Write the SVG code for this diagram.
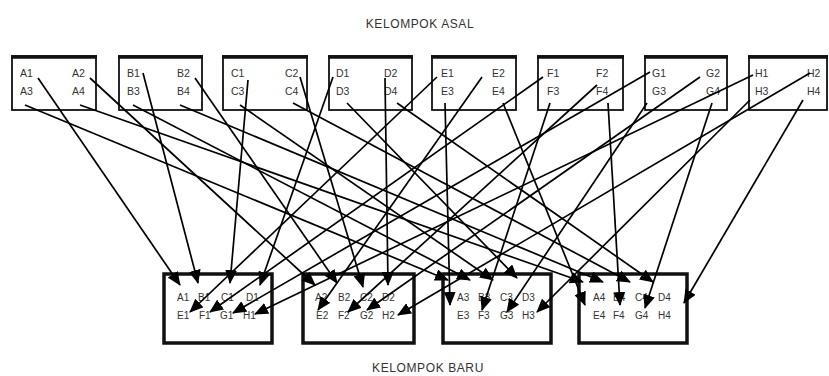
<svg xmlns="http://www.w3.org/2000/svg" width="829" height="376" viewBox="0 0 829 376">
<defs>
<style>
.bg{fill:#fff}
.tb{fill:#fff;stroke:#111;stroke-width:1.8}
.tt{stroke:#111;stroke-width:3.5}
.bb{fill:#fff;stroke:#111;stroke-width:3.5}
.lb{font-family:"Liberation Sans",Arial,sans-serif;font-size:10.5px;fill:#333}
.bl{font-family:"Liberation Sans",Arial,sans-serif;font-size:10px;fill:#333}
.ti{font-family:"Liberation Sans",Arial,sans-serif;font-size:12px;fill:#333;text-anchor:middle;letter-spacing:0.6px}
.cn line{stroke:#000;stroke-width:1.7;marker-end:url(#ah)}
</style>
<marker id="ah" markerWidth="14" markerHeight="12" refX="13" refY="6" orient="auto" markerUnits="userSpaceOnUse"><path d="M0,0 L14,6 L0,12 z" fill="#000"/></marker>
</defs>
<rect class="bg" x="0" y="0" width="829" height="376"/>
<text class="ti" x="420" y="28">KELOMPOK ASAL</text>
<text class="ti" x="428" y="372">KELOMPOK BARU</text>

<g id="A"><rect class="tb" x="12" y="56" width="84" height="54"/><line class="tt" x1="11" y1="57" x2="97" y2="57"/><text class="lb" x="20" y="77">A1</text><text class="lb" x="72" y="77">A2</text><text class="lb" x="20" y="95">A3</text><text class="lb" x="72" y="95">A4</text></g>
<g id="B"><rect class="tb" x="119" y="56" width="83" height="54"/><line class="tt" x1="118" y1="57" x2="203" y2="57"/><text class="lb" x="127" y="77">B1</text><text class="lb" x="177" y="77">B2</text><text class="lb" x="127" y="95">B3</text><text class="lb" x="177" y="95">B4</text></g>
<g id="C"><rect class="tb" x="223" y="56" width="84" height="54"/><line class="tt" x1="222" y1="57" x2="308" y2="57"/><text class="lb" x="231" y="77">C1</text><text class="lb" x="285" y="77">C2</text><text class="lb" x="231" y="95">C3</text><text class="lb" x="285" y="95">C4</text></g>
<g id="D"><rect class="tb" x="329" y="56" width="83" height="54"/><line class="tt" x1="328" y1="57" x2="413" y2="57"/><text class="lb" x="336" y="77">D1</text><text class="lb" x="384" y="77">D2</text><text class="lb" x="336" y="95">D3</text><text class="lb" x="384" y="95">D4</text></g>
<g id="E"><rect class="tb" x="432" y="56" width="84" height="54"/><line class="tt" x1="431" y1="57" x2="517" y2="57"/><text class="lb" x="441" y="77">E1</text><text class="lb" x="492" y="77">E2</text><text class="lb" x="441" y="95">E3</text><text class="lb" x="492" y="95">E4</text></g>
<g id="F"><rect class="tb" x="538" y="56" width="85" height="54"/><line class="tt" x1="537" y1="57" x2="624" y2="57"/><text class="lb" x="547" y="77">F1</text><text class="lb" x="596" y="77">F2</text><text class="lb" x="547" y="95">F3</text><text class="lb" x="596" y="95">F4</text></g>
<g id="G"><rect class="tb" x="645" y="56" width="82" height="54"/><line class="tt" x1="644" y1="57" x2="728" y2="57"/><text class="lb" x="652" y="77">G1</text><text class="lb" x="706" y="77">G2</text><text class="lb" x="652" y="95">G3</text><text class="lb" x="706" y="95">G4</text></g>
<g id="H"><rect class="tb" x="749" y="56" width="78" height="54"/><line class="tt" x1="748" y1="57" x2="828" y2="57"/><text class="lb" x="755" y="77">H1</text><text class="lb" x="807" y="77">H2</text><text class="lb" x="755" y="95">H3</text><text class="lb" x="807" y="95">H4</text></g>

<g id="N1"><rect class="bb" x="164" y="274" width="108" height="69"/><text class="bl" x="177" y="301">A1</text><text class="bl" x="198" y="301">B1</text><text class="bl" x="221" y="301">C1</text><text class="bl" x="246" y="301">D1</text><text class="bl" x="177" y="319">E1</text><text class="bl" x="199" y="319">F1</text><text class="bl" x="220" y="319">G1</text><text class="bl" x="243" y="319">H1</text></g>
<g id="N2"><rect class="bb" x="303" y="274" width="111" height="69"/><text class="bl" x="315" y="301">A2</text><text class="bl" x="338" y="301">B2</text><text class="bl" x="360" y="301">C2</text><text class="bl" x="382" y="301">D2</text><text class="bl" x="316" y="319">E2</text><text class="bl" x="338" y="319">F2</text><text class="bl" x="360" y="319">G2</text><text class="bl" x="382" y="319">H2</text></g>
<g id="N3"><rect class="bb" x="443" y="274" width="108" height="69"/><text class="bl" x="457" y="301">A3</text><text class="bl" x="478" y="301">B3</text><text class="bl" x="500" y="301">C3</text><text class="bl" x="522" y="301">D3</text><text class="bl" x="457" y="319">E3</text><text class="bl" x="478" y="319">F3</text><text class="bl" x="500" y="319">G3</text><text class="bl" x="522" y="319">H3</text></g>
<g id="N4"><rect class="bb" x="579" y="274" width="108" height="69"/><text class="bl" x="593" y="301">A4</text><text class="bl" x="613" y="301">B4</text><text class="bl" x="635" y="301">C4</text><text class="bl" x="658" y="301">D4</text><text class="bl" x="593" y="319">E4</text><text class="bl" x="613" y="319">F4</text><text class="bl" x="635" y="319">G4</text><text class="bl" x="658" y="319">H4</text></g>

<g id="connectors" class="cn">
<line x1="38" y1="78" x2="180" y2="285"/>
<line x1="143" y1="73" x2="198" y2="283"/>
<line x1="248" y1="80" x2="230" y2="283"/>
<line x1="333" y1="77" x2="260" y2="285"/>
<line x1="437" y1="77" x2="190" y2="312"/>
<line x1="543" y1="77" x2="210" y2="312"/>
<line x1="650" y1="72" x2="233" y2="313"/>
<line x1="753" y1="75" x2="255" y2="314"/>
<line x1="90" y1="78" x2="315" y2="285"/>
<line x1="195" y1="78" x2="337" y2="283"/>
<line x1="300" y1="77" x2="363" y2="287"/>
<line x1="385" y1="78" x2="388" y2="285"/>
<line x1="482" y1="77" x2="318" y2="310"/>
<line x1="597" y1="85" x2="348" y2="312"/>
<line x1="700" y1="77" x2="367" y2="310"/>
<line x1="810" y1="73" x2="398" y2="315"/>
<line x1="25" y1="105" x2="448" y2="280"/>
<line x1="133" y1="105" x2="470" y2="280"/>
<line x1="240" y1="105" x2="493" y2="280"/>
<line x1="347" y1="103" x2="517" y2="278"/>
<line x1="445" y1="103" x2="450" y2="305"/>
<line x1="550" y1="103" x2="482" y2="310"/>
<line x1="647" y1="103" x2="507" y2="312"/>
<line x1="750" y1="100" x2="537" y2="312"/>
<line x1="80" y1="105" x2="583" y2="282"/>
<line x1="180" y1="105" x2="603" y2="282"/>
<line x1="293" y1="103" x2="630" y2="282"/>
<line x1="397" y1="103" x2="653" y2="282"/>
<line x1="503" y1="103" x2="585" y2="305"/>
<line x1="608" y1="103" x2="620" y2="305"/>
<line x1="712" y1="103" x2="645" y2="308"/>
<line x1="803" y1="100" x2="684" y2="303"/>
</g>
</svg>
